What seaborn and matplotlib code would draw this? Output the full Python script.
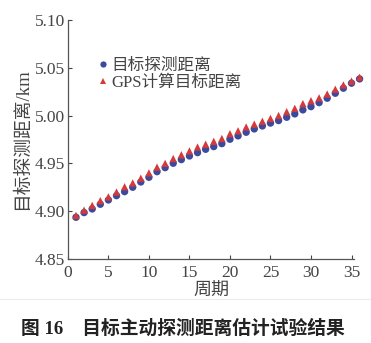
import numpy as np
import pandas as pd
import matplotlib
matplotlib.use("Agg")
import matplotlib.pyplot as plt
import seaborn as sns

periods = list(range(1, 37))
detected = [4.8936, 4.8985, 4.9023, 4.9072, 4.9117, 4.9162, 4.9204, 4.9250, 4.9305,
            4.9354, 4.9413, 4.9455, 4.9501, 4.9539, 4.9577, 4.9612, 4.9647, 4.9675,
            4.9706, 4.9752, 4.9787, 4.9825, 4.9860, 4.9891, 4.9921, 4.9947, 4.9982,
            5.0017, 5.0059, 5.0093, 5.0135, 5.0181, 5.0233, 5.0286, 5.0338, 5.0383]
gps = [4.8955, 4.9010, 4.9060, 4.9110, 4.9150, 4.9200, 4.9255, 4.9295, 4.9345,
       4.9400, 4.9460, 4.9500, 4.9550, 4.9590, 4.9630, 4.9670, 4.9700, 4.9730,
       4.9760, 4.9810, 4.9840, 4.9880, 4.9910, 4.9940, 4.9970, 5.0000, 5.0040,
       5.0075, 5.0125, 5.0155, 5.0185, 5.0225, 5.0275, 5.0320, 5.0360, 5.0400]
series_names = ["目标探测距离", "GPS计算目标距离"]
yticks = [4.85, 4.90, 4.95, 5.00, 5.05, 5.10]
xticks = [0, 5, 10, 15, 20, 25, 30, 35]

sns.set_style("ticks")
plt.rcParams['font.family'] = ['Liberation Serif', 'Noto Sans CJK SC']

df = pd.DataFrame({
    "周期": periods * 2,
    "距离": detected + gps,
    "series": [series_names[0]] * len(periods) + [series_names[1]] * len(periods),
})

fig = plt.figure(figsize=(3.71, 3.43), dpi=100)
ax = fig.add_axes([0.183, 0.245, 0.771, 0.697])

sns.scatterplot(data=df, x="周期", y="距离", hue="series", style="series",
                palette={series_names[0]: "#3b4a9c", series_names[1]: "#d43a3a"},
                markers={series_names[0]: "o", series_names[1]: "^"},
                s=28, linewidth=0, ax=ax, clip_on=False, zorder=3)

ax.set_xlim(0, 35.3)
ax.set_ylim(4.85, 5.10)
ax.set_xticks(xticks)
ax.set_yticks(yticks)
ax.set_yticklabels([f"{v:.2f}" for v in yticks])
ax.tick_params(direction="in", length=3, width=0.8, labelsize=12.5,
               colors="#444444", pad=2)
ax.tick_params(axis="x", pad=4)
for sp in ["top", "right"]:
    ax.spines[sp].set_visible(False)
for sp in ["left", "bottom"]:
    ax.spines[sp].set_color("#555555")
    ax.spines[sp].set_linewidth(0.9)

ax.set_xlabel("周期", fontsize=13, color="#444444", labelpad=2)
ax.set_ylabel("目标探测距离/km", fontsize=13.5, color="#444444", labelpad=3)

leg = ax.legend(loc="upper left", bbox_to_anchor=(0.07, 0.87), frameon=False,
                handletextpad=0.0, labelspacing=0.05, borderaxespad=0,
                handlelength=1.0, fontsize=12, markerscale=0.85)
for t in leg.get_texts():
    t.set_color("#444444")

fig.add_artist(plt.Line2D([0, 1], [1 - 299 / 343, 1 - 299 / 343],
                          color="#ececec", linewidth=0.8))
fig.text(0.494, 1 - 329 / 343, "图 16    目标主动探测距离估计试验结果",
         ha="center", va="center", fontsize=13.5, fontweight="bold",
         color="#222222", family=['Liberation Serif', 'Noto Sans CJK SC'])

fig.savefig("out.png", dpi=100, facecolor="white")
